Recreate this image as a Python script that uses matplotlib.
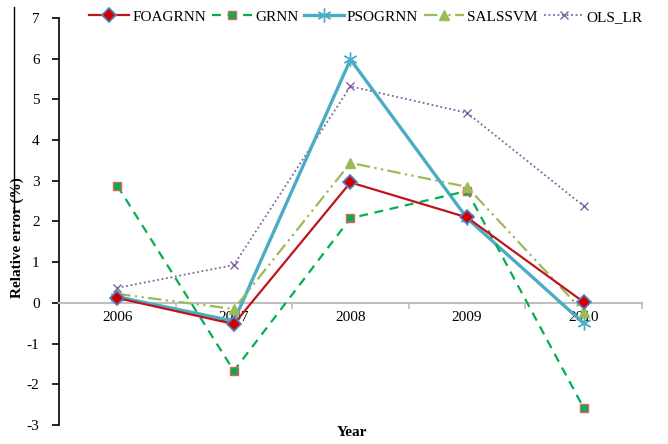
import numpy as np
import matplotlib.pyplot as plt
from matplotlib.lines import Line2D

years = ['2006', '2007', '2008', '2009', '2010']
foagrnn = [0.12, -0.52, 2.96, 2.10, 0.02]
grnn = [2.88, -1.67, 2.08, 2.75, -2.58]
psogrnn = [0.15, -0.45, 5.98, 2.08, -0.50]
salssvm = [0.22, -0.15, 3.44, 2.85, -0.22]
ols_lr = [0.37, 0.93, 5.32, 4.67, 2.38]

plt.rcParams['font.family'] = ['Liberation Serif', 'DejaVu Serif']
plt.rcParams['font.size'] = 11
plt.rcParams['axes.unicode_minus'] = False

fig = plt.figure(figsize=(6.68, 4.44), dpi=100)
ax = fig.add_axes([0.0883, 0.0428, 0.8727, 0.9167])
x = np.arange(len(years))

ax.plot(x, foagrnn, color='#c0141c', lw=1.6, marker='D', ms=7,
        mfc='#d00000', mec='#4f81bd', mew=1.2, label='FOAGRNN', zorder=5)
ax.plot(x, grnn, color='#00b050', lw=1.6, ls=(0, (4, 3)), marker='s', ms=6,
        mfc='#00b050', mec='#e06060', mew=1.0, label='GRNN', zorder=4)
ax.plot(x, psogrnn, color='#4bacc6', lw=2.4, marker=(6, 2, 0), ms=10,
        mec='#4bacc6', mew=1.0, label='PSOGRNN', zorder=3)
ax.plot(x, salssvm, color='#9bbb59', lw=1.6, ls=(0, (6, 2, 1, 2, 1, 2)),
        marker='^', ms=7, mfc='#9bbb59', mec='#9bbb59', label='SALSSVM', zorder=4)
ax.plot(x, ols_lr, color='#8064a2', lw=1.3, ls=(0, (1, 1.5)), marker='x', ms=6,
        mew=1.0, label='OLS_LR', zorder=2)

ax.set_xlim(-0.5, len(years) - 0.5)
ax.set_ylim(-3, 7)
ax.set_yticks(range(-3, 8))

ax.spines['top'].set_visible(False)
ax.spines['right'].set_visible(False)
ax.spines['bottom'].set_position(('data', 0))
ax.spines['bottom'].set_color('#bfbfbf')
ax.spines['bottom'].set_linewidth(1.5)
ax.spines['left'].set_linewidth(1.2)

ax.set_xticks(x)
ax.set_xticklabels(years)
ax.set_xticks(np.arange(-0.5, len(years)), minor=True)
ax.tick_params(axis='x', which='major', length=0, pad=6)
ax.tick_params(axis='x', which='minor', length=4, color='#bfbfbf', width=1.2)
ax.tick_params(axis='y', length=5, width=1.2, direction='out', pad=9)

ax.set_ylabel('Relative error (%)', fontweight='bold', labelpad=2, y=0.46)
fig.text(0.527, 0.012, 'Year', fontweight='bold', ha='center', va='bottom')

ax.legend(loc='center', bbox_to_anchor=(0.548, 0.962), bbox_transform=fig.transFigure,
          ncol=5, frameon=False, handlelength=2.6, columnspacing=0.4,
          handletextpad=0.2, borderaxespad=0)

fig.add_artist(Line2D([14 / 668, 14 / 668], [1 - 7 / 444, 1 - 213 / 444],
                      transform=fig.transFigure, color='black', lw=1))

fig.savefig('out.png', dpi=100)
